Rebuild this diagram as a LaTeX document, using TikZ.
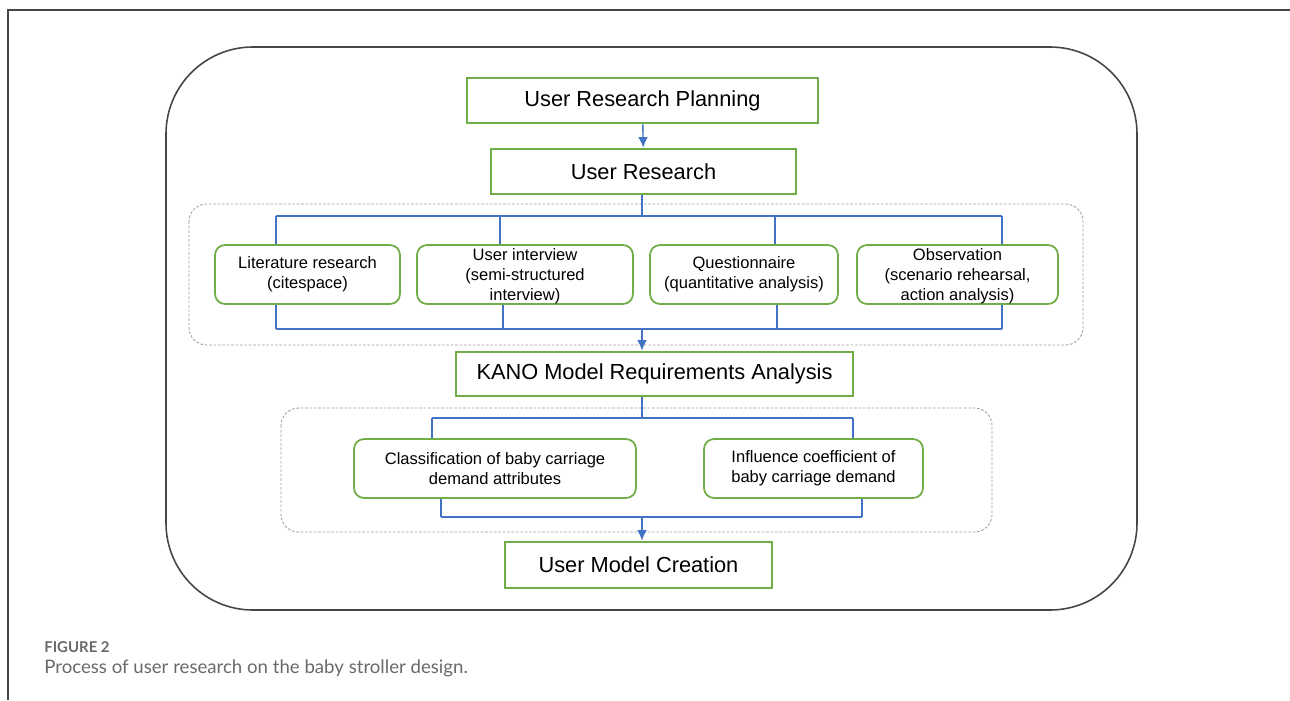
\documentclass[tikz,border=0pt]{standalone}
\usepackage{fontspec}
\setmainfont{Liberation Sans}
\newfontfamily\capfont{Lato}
\usetikzlibrary{arrows.meta, positioning, calc}
\definecolor{boxgreen}{RGB}{112,173,71}
\definecolor{lineblue}{RGB}{68,114,196}
\definecolor{framegray}{RGB}{70,70,70}
\definecolor{capgray}{RGB}{105,105,105}

\begin{document}
\begin{tikzpicture}[
    x=0.02cm, y=-0.02cm,
    stage/.style={rectangle, draw=boxgreen, line width=1.5pt, minimum height=0.9cm, inner sep=0pt, font=\fontsize{12.4}{14}\selectfont},
    sub/.style={rectangle, draw=boxgreen, line width=1pt, rounded corners=0.2cm, minimum height=1.18cm, inner sep=0pt, align=center, font=\fontsize{9.4}{11.3}\selectfont},
    link/.style={draw=lineblue, line width=0.8pt},
    arrow/.style={link, -{Latex[length=6pt, width=5.5pt]}},
    group/.style={draw=gray!75, line width=0.5pt, dash pattern=on 1.5pt off 1pt, rounded corners=0.35cm}
]
\useasboundingbox (0,0) rectangle (1290,700);

% Frame
\draw[framegray, line width=0.8pt] (8,700) -- (8,10) -- (1290,10);
\draw[framegray, line width=0.9pt, rounded corners=1.74cm] (166,47) rectangle (1137,610);

% Groups
\draw[group] (189,204) rectangle (1083,345);
\draw[group] (281,408) rectangle (992,532);

% Stages
\node[stage, minimum width=7.02cm] (plan) at (642.5,100.5) {User Research Planning};
\node[stage, minimum width=6.1cm] (research) at (643.5,171.5) {User Research};

% Research methods
\node[sub, minimum width=3.7cm] (lit) at (307.5,274.5) {Literature research\\(citespace)};
\node[sub, minimum width=4.32cm, text depth=-2pt] (intv) at (525,274.5) {User interview\\(semi-structured\\interview)};
\node[sub, minimum width=3.76cm] (quest) at (744,274.5) {Questionnaire\\(quantitative analysis)};
\node[sub, minimum width=4.02cm, text depth=-2pt] (obs) at (957.5,274.5) {Observation\\(scenario rehearsal,\\action analysis)};

% KANO
\node[stage, minimum width=7.94cm, minimum height=0.88cm] (kano) at (654.5,374) {KANO Model Requirements Analysis};
\node[sub, minimum width=5.64cm] (class) at (495,468.5) {Classification of baby carriage\\demand attributes};
\node[sub, minimum width=4.38cm] (infl) at (813.5,468.5) {Influence coefficient of\\baby carriage demand};

% Output
\node[stage, minimum width=5.34cm, minimum height=0.92cm] (model) at (638.5,565) {User Model Creation};

% Caption
\node[anchor=west, inner sep=0pt, text=capgray, font=\capfont\fontsize{8.5}{10}\selectfont\bfseries] (figno) at (44,647) {FIGURE 2};
\node[anchor=west, inner sep=0pt, text=capgray, font=\capfont\fontsize{10.6}{12}\selectfont] (figcap) at (44,668) {Process of user research on the baby stroller design.};

% Arrows
\draw[arrow] (plan) -- (research);

\coordinate (splitA) at (642,216);
\coordinate (busA1) at (276,216);
\coordinate (busA2) at (1002,216);
\draw[link] (research.south -| splitA) -- (splitA);
\draw[link] (busA1) -- (busA2);
\foreach \n/\x in {lit/276, intv/500, quest/775, obs/1002}
    \draw[link] (\x,216) -- (\n.north -| \x,216);

\coordinate (joinA) at (642,329);
\coordinate (busB1) at (276,329);
\coordinate (busB2) at (1002,329);
\foreach \n/\x in {lit/276, intv/503, quest/777, obs/1002}
    \draw[link] (\n.south -| \x,329) -- (\x,329);
\draw[link] (busB1) -- (busB2);
\draw[arrow] (joinA) -- (kano.north -| joinA);

\coordinate (splitB) at (642,418);
\coordinate (busC1) at (432,418);
\coordinate (busC2) at (853,418);
\draw[link] (kano.south -| splitB) -- (splitB);
\draw[link] (busC1) -- (busC2);
\draw[link] (busC1) -- (class.north -| busC1);
\draw[link] (busC2) -- (infl.north -| busC2);

\coordinate (joinB) at (642,517);
\coordinate (busD1) at (441,517);
\coordinate (busD2) at (862,517);
\draw[link] (class.south -| busD1) -- (busD1);
\draw[link] (infl.south -| busD2) -- (busD2);
\draw[link] (busD1) -- (busD2);
\draw[arrow] (joinB) -- (model.north -| joinB);

\end{tikzpicture}
\end{document}
